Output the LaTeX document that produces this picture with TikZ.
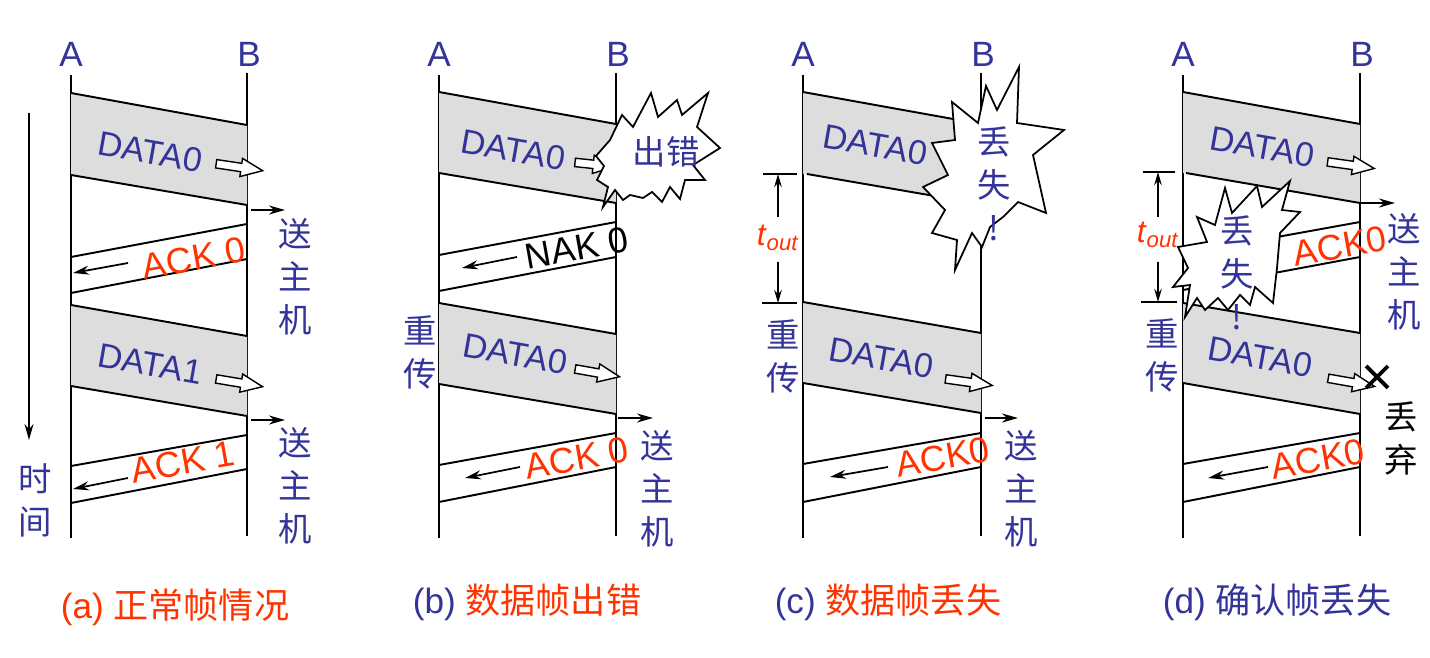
\documentclass[tikz,border=0pt]{standalone}
\usepackage{fontspec}
\setmainfont{Liberation Sans}
\newfontfamily\cjk{Noto Sans CJK SC}
\usetikzlibrary{shapes.arrows,shapes.misc,arrows.meta}
\definecolor{pblue}{RGB}{51,51,153}
\definecolor{pred}{RGB}{255,51,0}
\definecolor{bandgray}{RGB}{221,221,221}

\begin{document}
\begin{tikzpicture}[x=0.02cm, y=-0.02cm,
    lifeline/.style={line width=1.1pt},
    edge/.style={line width=1.1pt},
    host/.style={font=\fontsize{20pt}{24pt}\selectfont, text=pblue, inner sep=1pt},
    frm/.style={font=\fontsize{19.5pt}{22pt}\selectfont, text=pblue, rotate=-10, inner sep=0pt},
    ack/.style={font=\fontsize{20.5pt}{22pt}\selectfont, text=pred, rotate=10, inner sep=0pt},
    cn/.style={font=\cjk\fontsize{19pt}{24.4pt}\selectfont, text=pblue, align=center, inner sep=0pt},
    hollow/.style={single arrow, draw, fill=white, line width=0.8pt, minimum height=#1,
      minimum width=0.34cm, inner sep=0.07cm, single arrow head extend=0.1cm,
      single arrow tip angle=46},
    hollow/.default=0.94cm,
    smallarr/.style={-{Stealth[length=3.2mm,width=1.8mm]}, line width=1pt},
    toutarr/.style={-{Stealth[length=2.6mm,width=1.5mm]}, line width=1pt},
    burst/.style={draw, fill=white, line width=1pt, line join=miter},
    tick/.style={line width=1.1pt},
    tlab/.style={font=\fontsize{18pt}{20pt}\selectfont, text=pred, inner sep=1pt},
    figcap/.style={font=\fontsize{20pt}{24pt}\selectfont, text=pred}
  ]
  \useasboundingbox (0,0) rectangle (1430,658);

  % time lines of the four cases
  \foreach \ax/\bx/\p in {71/247/a,439/616/b,803/981/c,1183/1360/d}{
    \node[host] (A\p) at (\ax,54) {A};
    \node[host] (B\p) at (\bx+2,54) {B};
    \draw[lifeline] (\ax,75) -- (\ax,538);
    \draw[lifeline] (\bx,73) -- (\bx,536);
  }

  % (a)
  \fill[bandgray] (71,93) -- (247,125) -- (247,205) -- (71,175) -- cycle;
  \fill[bandgray] (71,305) -- (247,336) -- (247,416) -- (71,386) -- cycle;
  \draw[edge] (71,93) -- (247,125) (71,175) -- (247,205);
  \draw[edge] (71,305) -- (247,336) (71,386) -- (247,416);
  \draw[edge] (71,257) -- (247,224) (71,293) -- (247,259);
  \draw[edge] (71,466) -- (247,435) (71,503) -- (247,469);
  \node[frm] (da0) at (150,152) {DATA0};
  \node[frm] (da1) at (150,364) {DATA1};
  \node[hollow, rotate=-8.5] (ha0) at (234.5,166.5) {};
  \node[hollow, rotate=-9.5] (ha1) at (234.5,382) {};
  \node[ack] (aa0) at (194,258) {ACK 0};
  \node[ack] (aa1) at (183,462) {ACK 1};
  \draw[smallarr] (251,210) -- (285,210);
  \draw[smallarr] (251,420) -- (285,420);
  \draw[smallarr] (128,263) -- (73,273);
  \draw[smallarr] (128,478) -- (73,489);
  \node[cn] (ha) at (295,277) {送\\主\\机};
  \node[cn] (hb) at (295,486) {送\\主\\机};
  \draw[smallarr] (29,113) -- (29,440);
  \node[cn] (time) at (35,500) {时\\间};
  \node[figcap] (capa) at (175,607) {(a) {\cjk 正常帧情况}};

  % (b)
  \fill[bandgray] (439,92) -- (616,124) -- (616,203) -- (439,173) -- cycle;
  \fill[bandgray] (439,303) -- (616,334) -- (616,414) -- (439,384) -- cycle;
  \draw[edge] (439,92) -- (616,124) (439,173) -- (616,203);
  \draw[edge] (439,303) -- (616,334) (439,384) -- (616,414);
  \draw[edge] (439,255) -- (616,222) (439,291) -- (616,257);
  \draw[edge] (439,465) -- (616,433) (439,502) -- (616,467);
  \node[frm] (db0) at (513,150) {DATA0};
  \node[frm] (db1) at (515,354) {DATA0};
  \node[hollow=0.8cm, rotate=-6] (hb0) at (590,164) {};
  \node[hollow=0.9cm, rotate=-10] (hb1) at (592.5,372) {};
  \draw[burst] (622,115) -- (633,127) -- (651,93) -- (658,117) -- (677,100) -- (682,115)
    -- (708,93) -- (697,127) -- (720,148) -- (693,165) -- (705,180) -- (685,180)
    -- (680,199) -- (670,187) -- (662,202) -- (652,192) -- (643,198) -- (630,195)
    -- (623,200) -- (615,190) -- (603,207) -- (608,187) -- (597,180) -- (604,166)
    -- (596,156) -- (610,140) -- cycle;
  \node[cn] (err) at (666,152) {出错};
  \node[ack, text=black] (nak) at (577,248) {NAK 0};
  \node[ack] (ab0) at (577,458) {ACK 0};
  \draw[smallarr] (517,257) -- (462,268);
  \draw[smallarr] (520,467) -- (465,478);
  \draw[smallarr] (618,418) -- (653,418);
  \node[cn] (rb) at (420,352) {重\\传};
  \node[cn] (hc) at (657,489) {送\\主\\机};
  \node[figcap] (capb) at (527,602) {\textcolor{pblue}{(b)} {\cjk 数据帧出错}};

  % (c)
  \fill[bandgray] (803,92) -- (981,124) -- (981,204) -- (803,174) -- cycle;
  \fill[bandgray] (803,302) -- (981,333) -- (981,413) -- (803,383) -- cycle;
  \draw[edge] (803,92) -- (981,124) (807,174) -- (981,204);
  \draw[edge] (803,302) -- (981,333) (803,383) -- (981,413);
  \draw[edge] (803,464) -- (981,433) (803,502) -- (981,467);
  \node[frm] (dc0) at (875,145) {DATA0};
  \node[frm] (dc1) at (881,358) {DATA0};
  \node[hollow, rotate=-8] (hc1) at (964,381.5) {};
  \node[ack] (ac0) at (943,457) {ACK0};
  \draw[smallarr] (888,467) -- (830,477);
  \draw[smallarr] (985,418) -- (1018,418);
  \node[cn] (rc) at (783,356) {重\\传};
  \node[cn] (hd) at (1021,489) {送\\主\\机};
  \draw[burst] (1019,67) -- (1017,123) -- (1064,130) -- (1033,155) -- (1046,213)
    -- (1018,202) -- (1003,217) -- (990,227) -- (982,247) -- (972,233) -- (955,270)
    -- (957,240) -- (932,233) -- (945,210) -- (923,187) -- (948,175) -- (932,143)
    -- (955,140) -- (952,102) -- (978,123) -- (986,86) -- (997,110) -- cycle;
  \node[cn] (lc) at (994,184) {丢\\失\\!};
  \draw[tick] (763,174) -- (797,174) (762,303) -- (797,303);
  \coordinate (tc1) at (778,174);
  \coordinate (tc2) at (778,303);
  \node[tlab] (tc) at (778,238) {\textit{t}\textsubscript{\textit{out}}};
  \draw[toutarr] (778,217) -- (tc1);
  \draw[toutarr] (778,262) -- (tc2);
  \node[figcap] (capc) at (888,602) {\textcolor{pblue}{(c)} {\cjk 数据帧丢失}};

  % (d)
  \fill[bandgray] (1183,92) -- (1360,124) -- (1360,203) -- (1183,173) -- cycle;
  \fill[bandgray] (1183,303) -- (1360,333) -- (1360,414) -- (1183,383) -- cycle;
  \draw[edge] (1183,92) -- (1360,124) (1186,173) -- (1360,203);
  \draw[edge] (1183,303) -- (1360,333) (1183,383) -- (1360,414);
  \draw[edge] (1183,254) -- (1360,222) (1183,290) -- (1360,257);
  \draw[edge] (1183,464) -- (1360,433) (1183,502) -- (1360,467);
  \node[frm] (dd0) at (1262,147) {DATA0};
  \node[frm] (dd1) at (1260,357) {DATA0};
  \node[hollow, rotate=-8] (hd0) at (1346,164.5) {};
  \node[hollow, rotate=-10] (hd1) at (1346.5,381.5) {};
  \node[ack] (ad0) at (1340,246) {ACK0};
  \node[ack] (ad1) at (1318,459) {ACK0};
  \draw[smallarr] (1360,203) -- (1395,203);
  \draw[smallarr] (1268,467) -- (1208,478);
  \node[cn] (he) at (1404,272) {送\\主\\机};
  \node[cn] (rd) at (1162,355) {重\\传};
  \node[cross out, draw, line width=2.2pt, minimum size=0.36cm, inner sep=0pt] (drop) at (1377,377) {};
  \node[cn, text=black] (dropt) at (1401,438) {丢\\弃};
  \draw[burst] (1225,188) -- (1232,213) -- (1257,186) -- (1262,207) -- (1290,181)
    -- (1282,210) -- (1300,212) -- (1280,233) -- (1277,268) -- (1273,303)
    -- (1255,287) -- (1250,305) -- (1240,295) -- (1228,310) -- (1218,298)
    -- (1205,310) -- (1197,298) -- (1185,317) -- (1190,285) -- (1173,287)
    -- (1188,268) -- (1178,247) -- (1207,242) -- (1197,217) -- (1215,225) -- cycle;
  \node[cn] (ld) at (1237,273) {丢\\失\\!};
  \draw[tick] (1143,172) -- (1175,172) (1141,302) -- (1177,302);
  \coordinate (td1) at (1158,172);
  \coordinate (td2) at (1158,302);
  \node[tlab] (td) at (1158,235) {\textit{t}\textsubscript{\textit{out}}};
  \draw[toutarr] (1158,217) -- (td1);
  \draw[toutarr] (1158,262) -- (td2);
  \node[figcap, text=pblue] (capd) at (1277,602) {(d) {\cjk 确认帧丢失}};
\end{tikzpicture}
\end{document}
